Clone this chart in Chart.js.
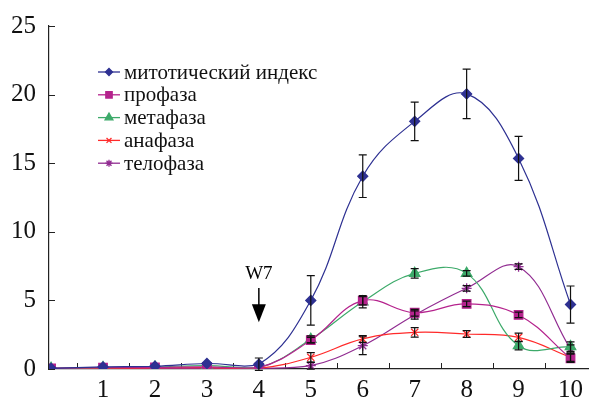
<!DOCTYPE html>
<html>
<head>
<meta charset="utf-8">
<script src="https://cdn.jsdelivr.net/npm/chart.js@4"></script>
<style>
  html, body { margin: 0; padding: 0; background: #fff; }
  #wrap { width: 596px; height: 398px; }
</style>
</head>
<body>
<div id="wrap"><canvas id="mitChart"></canvas></div>
<script>
const days = [0, 1, 2, 3, 4, 5, 6, 7, 8, 9, 10];
const xTicks = [1, 2, 3, 4, 5, 6, 7, 8, 9, 10];
const yTicks = [0, 5, 10, 15, 20, 25];

const mitIndex = [0.05, 0.15, 0.2, 0.4, 0.35, 5.0, 14.05, 18.05, 20.05, 15.35, 4.7];
const mitErr   = [0, 0, 0, 0, 0.45, 1.8, 1.55, 1.4, 1.8, 1.6, 1.35];
const prophase = [0.05, 0.1, 0.12, 0.15, 0.1, 2.1, 4.98, 4.1, 4.74, 3.94, 0.78];
const proErr   = [0, 0, 0, 0, 0, 0.2, 0.3, 0.25, 0.2, 0.2, 0.3];
const metaphase = [0.05, 0.1, 0.15, 0.25, 0.1, 2.16, 4.9, 6.97, 6.97, 1.7, 1.63];
const metaErr   = [0, 0, 0, 0, 0, 0.25, 0.45, 0.35, 0.2, 0.3, 0.35];
const anaphase = [0.05, 0.05, 0.08, 0.1, 0.05, 0.85, 2.19, 2.67, 2.55, 2.31, 0.85];
const anaErr   = [0, 0, 0, 0, 0, 0.35, 0.25, 0.35, 0.25, 0.3, 0.3];
const telophase = [0.05, 0.05, 0.05, 0.05, 0.05, 0.24, 1.7, 3.94, 5.88, 7.46, 1.46];
const teloErr   = [0, 0, 0, 0, 0, 0.25, 0.65, 0.3, 0.2, 0.2, 0.3];

const seriesNames = ['митотический индекс', 'профаза', 'метафаза', 'анафаза', 'телофаза'];
const seriesColors = ['#2e3192', '#b5238d', '#3daa6a', '#ff2a2a', '#912c91'];
const seriesPoints = ['rectRot', 'rect', 'triangle', 'crossRot', 'star'];
const seriesRadius = [5, 6, 6, 5, 5];
const seriesValues = [mitIndex, prophase, metaphase, anaphase, telophase];
const seriesErrors = [mitErr, proErr, metaErr, anaErr, teloErr];

const serif = "'Liberation Serif', 'DejaVu Serif', serif";

const datasets = seriesValues.map((vals, i) => ({
    label: seriesNames[i],
    data: vals.map((v, j) => ({x: days[j], y: v})),
    errors: seriesErrors[i],
    borderColor: seriesColors[i],
    backgroundColor: seriesColors[i],
    pointBackgroundColor: seriesColors[i],
    pointBorderColor: seriesColors[i],
    pointStyle: seriesPoints[i],
    pointRadius: seriesRadius[i],
    borderWidth: 1.2,
    pointBorderWidth: 1.3,
    tension: 0.4,
    fill: false
}));

// error bars, axis ticks, arrow and legend
const decor = {
    id: 'decor',
    beforeDatasetsDraw(chart) {
        const ctx = chart.ctx;
        const xs = chart.scales.x, ys = chart.scales.y;
        ctx.save();
        ctx.strokeStyle = '#222';
        ctx.lineWidth = 1;
        // y ticks (inward)
        yTicks.forEach(v => {
            const y = Math.round(ys.getPixelForValue(v)) + 0.5;
            ctx.beginPath();
            ctx.moveTo(xs.left, y);
            ctx.lineTo(xs.left + 6, y);
            ctx.stroke();
        });
        // x ticks between categories
        for (let v = 0.5; v < 10.5; v++) {
            const x = Math.round(xs.getPixelForValue(v)) + 0.5;
            ctx.beginPath();
            ctx.moveTo(x, ys.bottom);
            ctx.lineTo(x, ys.bottom - 6);
            ctx.stroke();
        }
        ctx.restore();
    },
    afterDatasetsDraw(chart) {
        const ctx = chart.ctx;
        const xs = chart.scales.x, ys = chart.scales.y;
        ctx.save();
        ctx.strokeStyle = '#111';
        ctx.lineWidth = 1.2;
        chart.data.datasets.forEach(ds => {
            ds.data.forEach((p, j) => {
                const e = ds.errors[j];
                if (!e) return;
                const x = xs.getPixelForValue(p.x);
                const y1 = ys.getPixelForValue(p.y + e);
                const y2 = ys.getPixelForValue(p.y - e);
                ctx.beginPath();
                ctx.moveTo(x, y1); ctx.lineTo(x, y2);
                ctx.moveTo(x - 4, y1); ctx.lineTo(x + 4, y1);
                ctx.moveTo(x - 4, y2); ctx.lineTo(x + 4, y2);
                ctx.stroke();
            });
        });

        // arrow W7 at day 4
        const ax = xs.getPixelForValue(4);
        const aTop = ys.getPixelForValue(5.9);
        const aTip = ys.getPixelForValue(3.4);
        ctx.strokeStyle = '#000';
        ctx.fillStyle = '#000';
        ctx.lineWidth = 1.5;
        ctx.beginPath();
        ctx.moveTo(ax, aTop);
        ctx.lineTo(ax, aTip - 12);
        ctx.stroke();
        ctx.beginPath();
        ctx.moveTo(ax - 7, aTip - 18);
        ctx.lineTo(ax + 7, aTip - 18);
        ctx.lineTo(ax, aTip);
        ctx.closePath();
        ctx.fill();
        ctx.font = '19px ' + serif;
        ctx.textAlign = 'center';
        ctx.textBaseline = 'middle';
        ctx.fillText('W7', ax, aTop - 14);

        // legend
        const lx = 98, ly = 72, step = 22.8;
        ctx.font = '21px ' + serif;
        ctx.textAlign = 'left';
        ctx.textBaseline = 'middle';
        chart.data.datasets.forEach((ds, i) => {
            const y = ly + i * step;
            ctx.strokeStyle = ds.borderColor;
            ctx.lineWidth = 1.3;
            ctx.beginPath();
            ctx.moveTo(lx, y);
            ctx.lineTo(lx + 22, y);
            ctx.stroke();
            ctx.fillStyle = ds.borderColor;
            Chart.helpers.drawPoint(ctx, {
                pointStyle: ds.pointStyle,
                radius: ds.pointRadius - 1.5,
                borderWidth: 1.3,
                rotation: 0
            }, lx + 11, y);
            ctx.fillStyle = '#111';
            ctx.fillText(ds.label, lx + 26, y + 1);
        });
        ctx.restore();
    }
};

const ctx = document.getElementById('mitChart');
new Chart(ctx, {
    type: 'line',
    data: { datasets: datasets },
    options: {
        responsive: true,
        maintainAspectRatio: false,
        animation: false,
        layout: { padding: { top: 26, right: 0, bottom: 0, left: 0 } },
        plugins: {
            legend: { display: false },
            tooltip: { enabled: false }
        },
        scales: {
            x: {
                type: 'linear',
                min: -0.04,
                max: 10.35,
                grid: { display: false },
                border: { display: true, color: '#222', width: 1.2 },
                afterBuildTicks: s => { s.ticks = xTicks.map(v => ({value: v})); },
                afterFit: s => { s.height = 29; },
                ticks: {
                    color: '#111',
                    padding: -2,
                    maxRotation: 0,
                    font: { family: serif, size: 25 }
                }
            },
            y: {
                min: 0,
                max: 25,
                grid: { display: false },
                border: { display: true, color: '#222', width: 1.2 },
                afterBuildTicks: s => { s.ticks = yTicks.map(v => ({value: v})); },
                afterFit: s => { s.width = 49; },
                ticks: {
                    color: '#111',
                    padding: 5,
                    font: { family: serif, size: 25 }
                }
            }
        }
    },
    plugins: [decor]
});
</script>
</body>
</html>
